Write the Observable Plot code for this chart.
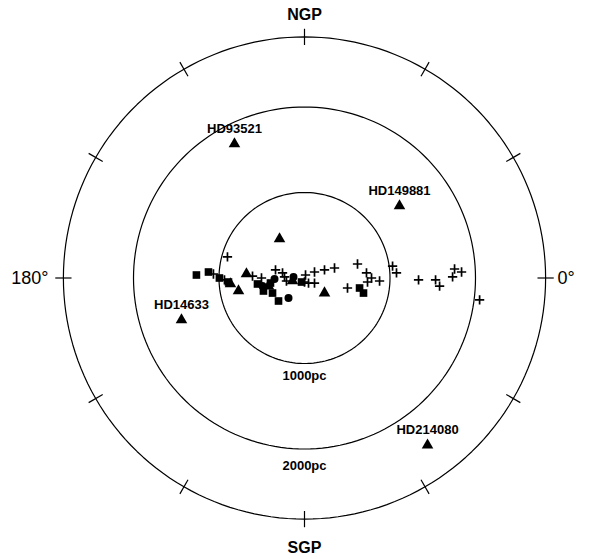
<!DOCTYPE html>
<html>
<head>
<meta charset="utf-8">
<script src="https://cdn.jsdelivr.net/npm/d3@7"></script>
<script src="https://cdn.jsdelivr.net/npm/@observablehq/plot@0.6"></script>
<style>
  html, body { margin: 0; padding: 0; background: #fff; }
  #chart svg { display: block; }
</style>
</head>
<body>
<div id="chart"></div>
<script>
// Distances in pc, projected on the plane through the galactic poles (x toward l=0°, y toward NGP)
const ringRadii = [1000, 2000, 2820];
const ringLabels = ["1000pc", "2000pc"];
const poleLabels = ["NGP", "SGP"];
const lonLabels = ["180°", "0°"];
const tickAngles = [0, 30, 60, 90, 120, 150, 180, 210, 240, 270, 300, 330];

const namedStars = ["HD93521", "HD149881", "HD14633", "HD214080"];
const namedX = [-819, 1111, -1439, 1439];
const namedY = [1568, 842, -491, -1954];

const triX = [-292, -679, -866, -772, -421, -140, 234];
const triY = [456, 47, -70, -152, -94, -35, -176];

const sqX = [-1264, -1123, -995, -889, -550, -480, -374, -304, -35, 644, 690, -398];
const sqY = [35, 70, 0, -47, -70, -152, -176, -269, -47, -117, -176, -59];

const circX = [-187, -351, -129, -491];
const circY = [-234, -12, 12, -94];

const plusX = [-901, -1065, -936, -608, -503, -339, -257, -234, -211, 12, 0, 117, 234, 351, 47, 117, 503, 620, 725, 784, 737, 878, 1030, 1076, 1334, 1533, 1580, 1732, 1755, 1837, 2048];
const plusY = [246, 47, -23, 23, 0, 94, 59, 12, -35, 35, -47, 70, 94, 117, -59, -59, -117, 164, 59, 0, -47, -35, 140, 59, -23, -23, -94, 12, 105, 70, -257];

// build tables
const zip = (xs, ys) => xs.map((x, i) => ({x, y: ys[i]}));
const named = namedStars.map((name, i) => ({name, x: namedX[i], y: namedY[i]}));
const tris = zip(triX, triY).concat(named.map(d => ({x: d.x, y: d.y})));
const squares = zip(sqX, sqY);
const circles = zip(circX, circY);
const pluses = zip(plusX, plusY);

const rings = ringRadii.flatMap((r, ri) =>
  d3.range(0, 361, 2).map(a => ({ring: ri, x: r * Math.cos(a * Math.PI / 180), y: r * Math.sin(a * Math.PI / 180)})));
const outerR = ringRadii[ringRadii.length - 1];
const tickLen = 95;
const ticks = tickAngles.map(a => {
  const t = a * Math.PI / 180;
  return {
    x1: (outerR - tickLen) * Math.sin(t), y1: (outerR - tickLen) * Math.cos(t),
    x2: (outerR + tickLen) * Math.sin(t), y2: (outerR + tickLen) * Math.cos(t)
  };
});

const W = 590, H = 559;
const k = 0.0855;          // px per pc
const cx = 304, cy = 277.5; // pixel centre of the diagram

const font = "Liberation Sans, Arial, sans-serif";

const chart = Plot.plot({
  width: W,
  height: H,
  margin: 0,
  x: {domain: [-cx / k, (W - cx) / k], range: [0, W], axis: null},
  y: {domain: [-(H - cy) / k, cy / k], range: [H, 0], axis: null},
  style: {fontFamily: font, background: "#fff", color: "#000"},
  marks: [
    Plot.line(rings, {x: "x", y: "y", z: "ring", stroke: "#000", strokeWidth: 1.2}),
    Plot.link(ticks, {x1: "x1", y1: "y1", x2: "x2", y2: "y2", stroke: "#000", strokeWidth: 1.2}),
    Plot.dot(pluses, {x: "x", y: "y", symbol: "plus", r: 3.1, stroke: "#000", strokeWidth: 1.7}),
    Plot.dot(squares, {x: "x", y: "y", symbol: "square", r: 4.3, fill: "#000"}),
    Plot.dot(circles, {x: "x", y: "y", symbol: "circle", r: 4, fill: "#000"}),
    Plot.dot(tris, {x: "x", y: "y", symbol: "triangle", r: 4.3, fill: "#000"}),
    Plot.text(named, {x: "x", y: "y", text: "name", dy: -15, fontSize: 13, fontWeight: "bold", fill: "#000"}),
    Plot.text([ringLabels[0]], {x: () => 0, y: () => -ringRadii[0], text: d => d, dy: 12, fontSize: 13, fontWeight: "bold", fill: "#000"}),
    Plot.text([ringLabels[1]], {x: () => 0, y: () => -ringRadii[1], text: d => d, dy: 17, fontSize: 13, fontWeight: "bold", fill: "#000"}),
    Plot.text([poleLabels[0]], {x: () => 0, y: () => outerR, text: d => d, dy: -22, fontSize: 16, fontWeight: "bold", fill: "#000"}),
    Plot.text([poleLabels[1]], {x: () => 0, y: () => -outerR, text: d => d, dy: 29, fontSize: 16, fontWeight: "bold", fill: "#000"}),
    Plot.text([lonLabels[0]], {x: () => -outerR, y: () => 0, text: d => d, dx: -15, textAnchor: "end", fontSize: 18, fill: "#000"}),
    Plot.text([lonLabels[1]], {x: () => outerR, y: () => 0, text: d => d, dx: 12, textAnchor: "start", fontSize: 18, fill: "#000"})
  ]
});
document.getElementById("chart").appendChild(chart);
</script>
</body>
</html>
